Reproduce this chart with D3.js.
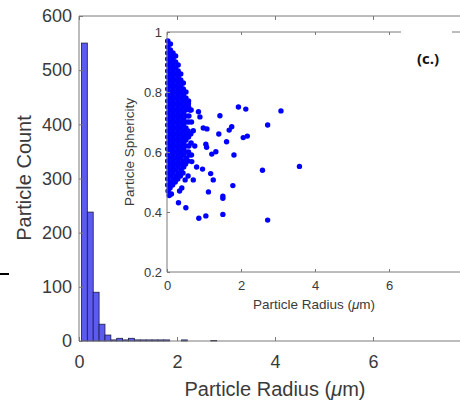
<!DOCTYPE html>
<html><head><meta charset="utf-8">
<script src="https://cdn.jsdelivr.net/npm/d3@7"></script>
<style>body{margin:0;background:#fff;overflow:hidden}</style>
</head><body>
<svg id="c" width="460" height="403"></svg>
<script>
// ---------- DATA ----------
const histEdges = [0.05,0.17,0.29,0.41,0.53,0.65,0.77,0.89,1.01,1.13,1.25,1.37,1.49,1.61,1.73,1.85,1.97,2.09,2.21,2.33,2.45,2.57,2.69,2.81];
const histCounts = [550,238,90,31,11,2,5,2,5,2,2,2,2,2,2,0,0,2,0,0,0,0,1];
const mainXTicks = [0,2,4,6];
const mainYTicks = [0,100,200,300,400,500,600];
const insetXTicks = [0,2,4,6,8];
const insetYTicks = [0.2,0.4,0.6,0.8,1];

// dense cluster of small particles (radius, sphericity)
const clusterPts = [
 [0.02,0.97],[0.02,0.95],[0.02,0.93],[0.02,0.91],[0.02,0.89],[0.02,0.87],[0.02,0.85],[0.02,0.83],[0.02,0.81],[0.02,0.79],[0.02,0.77],[0.02,0.75],[0.02,0.73],[0.02,0.71],[0.02,0.69],[0.02,0.67],[0.02,0.65],[0.02,0.63],[0.02,0.61],[0.02,0.59],[0.02,0.57],[0.02,0.55],[0.02,0.53],[0.02,0.51],[0.02,0.49],[0.03,0.47],
 [0.09,0.96],[0.09,0.94],[0.09,0.92],[0.09,0.90],[0.09,0.88],[0.09,0.86],[0.09,0.84],[0.09,0.82],[0.09,0.80],[0.09,0.78],[0.09,0.76],[0.09,0.74],[0.09,0.72],[0.09,0.70],[0.09,0.68],[0.09,0.66],[0.09,0.64],[0.09,0.62],[0.09,0.60],[0.09,0.58],[0.09,0.56],[0.09,0.54],[0.09,0.52],[0.10,0.50],[0.08,0.48],
 [0.16,0.93],[0.16,0.91],[0.16,0.89],[0.16,0.87],[0.16,0.85],[0.16,0.83],[0.16,0.81],[0.16,0.79],[0.16,0.77],[0.16,0.75],[0.16,0.73],[0.16,0.71],[0.16,0.69],[0.16,0.67],[0.16,0.65],[0.16,0.63],[0.16,0.61],[0.16,0.59],[0.16,0.57],[0.16,0.55],[0.16,0.53],[0.17,0.51],[0.15,0.49],
 [0.23,0.92],[0.23,0.90],[0.23,0.88],[0.23,0.86],[0.23,0.84],[0.23,0.82],[0.23,0.80],[0.23,0.78],[0.23,0.76],[0.23,0.74],[0.23,0.72],[0.23,0.70],[0.23,0.68],[0.23,0.66],[0.23,0.64],[0.23,0.62],[0.23,0.60],[0.23,0.58],[0.23,0.56],[0.23,0.54],[0.24,0.52],[0.22,0.50],
 [0.30,0.89],[0.30,0.87],[0.30,0.85],[0.30,0.83],[0.30,0.81],[0.30,0.79],[0.30,0.77],[0.30,0.75],[0.30,0.73],[0.30,0.71],[0.30,0.69],[0.30,0.67],[0.30,0.65],[0.30,0.63],[0.30,0.61],[0.30,0.59],[0.30,0.57],[0.30,0.55],[0.31,0.53],[0.29,0.51],
 [0.37,0.86],[0.37,0.84],[0.37,0.82],[0.37,0.80],[0.37,0.78],[0.37,0.76],[0.37,0.74],[0.37,0.72],[0.37,0.70],[0.37,0.68],[0.37,0.66],[0.37,0.64],[0.37,0.62],[0.37,0.60],[0.37,0.58],[0.37,0.56],[0.38,0.54],[0.36,0.52],
 [0.44,0.83],[0.44,0.81],[0.44,0.79],[0.44,0.77],[0.44,0.75],[0.44,0.73],[0.44,0.71],[0.44,0.69],[0.44,0.67],[0.44,0.65],[0.44,0.63],[0.44,0.61],[0.44,0.59],[0.44,0.57],[0.45,0.55],[0.43,0.53],
 [0.51,0.80],[0.51,0.78],[0.51,0.76],[0.51,0.74],[0.51,0.72],[0.51,0.70],[0.51,0.68],[0.51,0.66],[0.51,0.64],[0.51,0.62],[0.51,0.60],[0.52,0.58],[0.50,0.56],
 [0.58,0.77],[0.58,0.75],[0.59,0.72],[0.58,0.70],[0.57,0.67],[0.58,0.65],[0.59,0.62],[0.58,0.60],[0.57,0.57],
 [0.65,0.74],[0.66,0.70],[0.64,0.66],[0.65,0.63],[0.66,0.59]
];
// scattered larger particles (radius, sphericity)
const scatterPts = [
 [1.93,0.750],[2.13,0.743],[3.08,0.737],[1.43,0.721],[2.72,0.690],[0.85,0.734],[0.89,0.717],
 [0.98,0.680],[1.08,0.677],[1.40,0.660],[1.68,0.673],[1.75,0.684],[2.06,0.648],[2.17,0.653],
 [1.61,0.634],[1.05,0.626],[1.07,0.616],[1.21,0.593],[1.32,0.601],[1.81,0.590],[0.80,0.550],
 [0.96,0.543],[1.18,0.528],[2.58,0.539],[3.58,0.552],[1.78,0.488],[1.25,0.507],[1.12,0.467],
 [1.51,0.453],[1.51,0.446],[1.51,0.392],[0.31,0.431],[0.51,0.414],[0.86,0.379],[1.05,0.387],
 [2.72,0.373],[0.67,0.568],[0.71,0.507],[0.24,0.510],[0.49,0.507],[0.58,0.762],[0.62,0.740],
 [0.71,0.671],[0.49,0.640],[0.60,0.590],[0.12,0.460],[0.40,0.480],[0.57,0.520],[0.75,0.620],
 [0.06,0.455],[0.34,0.470]
];

// ---------- DRAW ----------
const svg = d3.select('#c');
const FONT = "'Liberation Sans', Arial, Helvetica, sans-serif";
const TXT = '#3a3a3a', AX = '#7a7a7a';

// main axes
const mx = d3.scaleLinear().domain([0,8]).range([79,471]);
const my = d3.scaleLinear().domain([0,600]).range([341,16]);

const bins = histCounts.map((c,i)=>({x0:histEdges[i],x1:histEdges[i+1],c})).filter(d=>d.c>0);
svg.append('g').selectAll('rect').data(bins).join('rect')
  .attr('x',d=>mx(d.x0)).attr('width',d=>mx(d.x1)-mx(d.x0))
  .attr('y',d=>my(d.c)).attr('height',d=>my(0)-my(d.c))
  .attr('fill','#5b5bf0').attr('stroke','#1c1c44').attr('stroke-width',0.8);

function styleAxis(g,size){
  g.select('.domain').remove();
  g.selectAll('line').attr('stroke',AX);
  g.selectAll('text').attr('fill',TXT).style('font-family',FONT).style('font-size',size+'px');
}
svg.append('g').attr('transform','translate(79,0)')
  .call(d3.axisLeft(my).tickValues(mainYTicks).tickSize(-4).tickPadding(7).tickFormat(d3.format('d')))
  .call(g=>styleAxis(g,18));
svg.append('g').attr('transform','translate(0,341)')
  .call(d3.axisBottom(mx).tickValues(mainXTicks).tickSize(-4).tickPadding(14).tickFormat(d3.format('d')))
  .call(g=>styleAxis(g,18));
svg.append('g').attr('transform','translate(0,16)')
  .call(d3.axisTop(mx).tickValues(mainXTicks).tickSize(-4).tickFormat(''))
  .call(g=>styleAxis(g,18));
// main box
svg.append('path').attr('d',`M79,16V341H471M79,16H471`).attr('fill','none').attr('stroke',AX).attr('stroke-width',1);

// main labels
const xl = svg.append('text').attr('x',275).attr('y',396).attr('text-anchor','middle')
  .attr('fill',TXT).style('font-family',FONT).style('font-size','20px');
xl.append('tspan').text('Particle Radius (');
xl.append('tspan').attr('font-style','italic').text('μ');
xl.append('tspan').text('m)');
svg.append('text').attr('transform','translate(31,178) rotate(-90)').attr('text-anchor','middle')
  .attr('fill',TXT).style('font-family',FONT).style('font-size','20px').text('Particle Count');

// inset
const ix = d3.scaleLinear().domain([0,8]).range([167,463]);
const iy = d3.scaleLinear().domain([0.2,1]).range([272,32]);
svg.append('rect').attr('x',167).attr('y',32).attr('width',296).attr('height',240).attr('fill','#fff');

const dots = svg.append('g').attr('fill','#0000ff');
dots.selectAll('circle.c').data(clusterPts).join('circle').attr('class','c')
  .attr('cx',d=>ix(d[0])).attr('cy',d=>iy(d[1])).attr('r',2.8);
dots.selectAll('circle.s').data(scatterPts).join('circle').attr('class','s')
  .attr('cx',d=>ix(d[0])).attr('cy',d=>iy(d[1])).attr('r',2.7);

svg.append('g').attr('transform','translate(167,0)')
  .call(d3.axisLeft(iy).tickValues(insetYTicks).tickSize(-3).tickPadding(5).tickFormat(d=>d===1?'1':d3.format('.1f')(d)))
  .call(g=>styleAxis(g,13));
svg.append('g').attr('transform','translate(463,0)')
  .call(d3.axisRight(iy).tickValues(insetYTicks).tickSize(-3).tickFormat(''))
  .call(g=>styleAxis(g,13));
svg.append('g').attr('transform','translate(0,272)')
  .call(d3.axisBottom(ix).tickValues(insetXTicks).tickSize(-3).tickPadding(9).tickFormat(d3.format('d')))
  .call(g=>styleAxis(g,13));
svg.append('g').attr('transform','translate(0,32)')
  .call(d3.axisTop(ix).tickValues(insetXTicks).tickSize(-3).tickFormat(''))
  .call(g=>styleAxis(g,13));
svg.append('path').attr('d',`M167,32V272H463V32H167`).attr('fill','none').attr('stroke',AX).attr('stroke-width',1);

const ixl = svg.append('text').attr('x',314).attr('y',309).attr('text-anchor','middle')
  .attr('fill',TXT).style('font-family',FONT).style('font-size','13.5px');
ixl.append('tspan').text('Particle Radius (');
ixl.append('tspan').attr('font-style','italic').text('μ');
ixl.append('tspan').text('m)');
svg.append('text').attr('transform','translate(134,152) rotate(-90)').attr('text-anchor','middle')
  .attr('fill',TXT).style('font-family',FONT).style('font-size','13.5px').text('Particle Sphericity');

// panel label with white box
svg.append('rect').attr('x',401).attr('y',28).attr('width',51).attr('height',44).attr('fill','#fff');
svg.append('text').attr('x',428).attr('y',64).attr('text-anchor','middle')
  .attr('fill','#111').style('font-family',"'Open Sans', sans-serif").style('font-weight','bold').style('font-size','15px').text('(c.)');

// stray mark at left edge
svg.append('line').attr('x1',0).attr('x2',9).attr('y1',274).attr('y2',274).attr('stroke','#000').attr('stroke-width',2);
</script>
</body></html>
